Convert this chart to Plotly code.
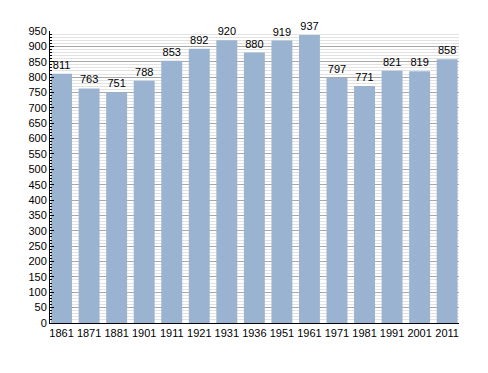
import plotly.graph_objects as go

years = ["1861", "1871", "1881", "1901", "1911", "1921", "1931", "1936", "1951", "1961",
         "1971", "1981", "1991", "2001", "2011"]
population = [811, 763, 751, 788, 853, 892, 920, 880, 919, 937, 797, 771, 821, 819, 858]

fig = go.Figure()
fig.add_trace(go.Bar(
    x=years, y=population,
    marker=dict(color="#9ab3d0", line=dict(width=0)),
    text=[str(v) for v in population],
    textposition="outside",
    textfont=dict(color="black", size=11, family="Liberation Sans, Arial, sans-serif"),
    cliponaxis=False,
))
# page body adds an 8px offset, so the figure is sized to fit the window
fig.update_layout(
    width=480, height=365,
    margin=dict(l=42, r=29, t=23, b=50, autoexpand=False),
    paper_bgcolor="white", plot_bgcolor="white",
    bargap=0.24,
    showlegend=False,
    font=dict(family="Liberation Sans, Arial, sans-serif", size=11, color="black"),
)
fig.update_xaxes(
    type="category", automargin=False,
    range=[-0.42, 14.43],
    showline=True, linecolor="black", linewidth=1,
    ticks="", showgrid=False,
    tickfont=dict(size=11),
)
fig.update_yaxes(
    range=[0, 950], automargin=False,
    tickvals=list(range(0, 951, 50)),
    showline=True, linecolor="black", linewidth=1,
    ticks="inside", ticklen=4, tickcolor="black",
    showgrid=True, gridcolor="#a8a8a8", gridwidth=1,
    minor=dict(dtick=10, showgrid=True, gridcolor="#e2e2e2", ticks="inside", ticklen=2, tickcolor="black"),
    zeroline=False,
    tickfont=dict(size=11),
)
fig.write_html("out.html")
